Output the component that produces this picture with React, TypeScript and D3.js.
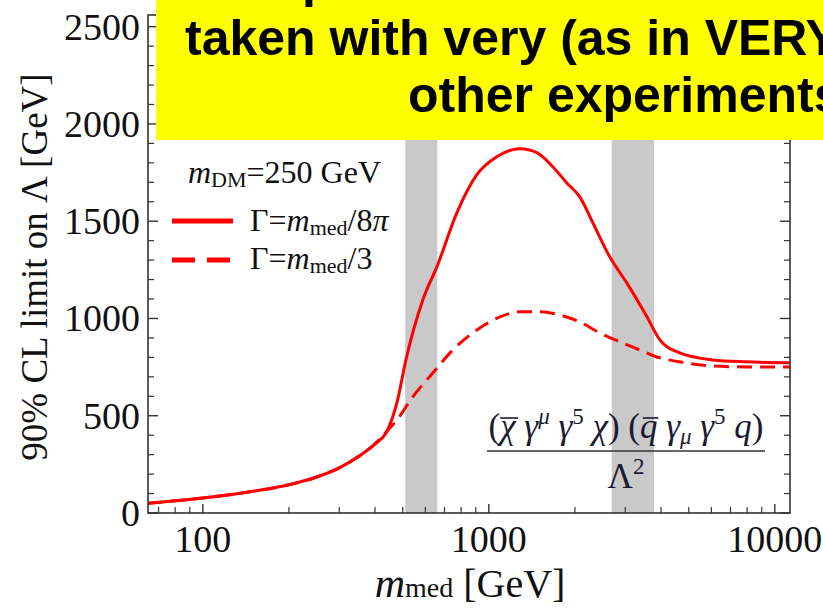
import React, { useLayoutEffect, useRef, useState } from 'react';
import * as d3 from 'd3';

const massSolid = [64, 100, 150, 200, 250, 300, 350, 400, 440, 477, 513, 588, 658, 773, 908, 1066, 1284, 1471, 1673, 1873, 2080, 2310, 2647, 3036, 3567, 3964, 4650, 6070, 7977, 11300];
const limitSolid = [50, 77, 112, 145, 185, 232, 290, 355, 420, 566, 787, 1096, 1265, 1543, 1739, 1831, 1872, 1852, 1780, 1697, 1625, 1492, 1317, 1183, 1010, 890, 823, 787, 777, 772];
const massDashed = [64, 100, 150, 200, 250, 300, 350, 400, 440, 477, 542, 637, 748, 930, 1093, 1284, 1507, 1771, 2080, 2443, 2871, 3373, 3866, 4652, 6070, 7980, 11300];
const limitDashed = [50, 77, 112, 145, 185, 232, 290, 355, 420, 478, 597, 720, 838, 951, 1008, 1034, 1034, 1018, 982, 926, 880, 838, 802, 777, 756, 751, 751];
const bands = [[510, 660], [2690, 3780]];
const xMajor = [100, 1000, 10000];
const xMinor = [70, 80, 90, 200, 300, 400, 500, 600, 700, 800, 900, 2000, 3000, 4000, 5000, 6000, 7000, 8000, 9000];
const yMajor = [0, 500, 1000, 1500, 2000, 2500];
const yMinor = d3.range(100, 2600, 100).filter((v) => v % 500 !== 0);
const yellowLines = ['Comparison should be', 'taken with very (as in VERY) large grains of salt', 'other experiments.'];

const L = 148, R = 790, T = 15, B = 513;
const SERIF = '"Liberation Serif", "Times New Roman", serif';

type Bar = { x1: number; x2: number; y: number };

export default function App() {
  const x = d3.scaleLog().domain([64.3, 11300]).range([L, R]);
  const y = d3.scaleLinear().domain([0, 2560]).range([B, T]);
  const line = d3.line<number>().curve(d3.curveMonotoneX);
  const solidPath = line(massSolid.map((m, i) => [x(m), y(limitSolid[i])]) as any) as string;
  const dashedPath = line(massDashed.map((m, i) => [x(m), y(limitDashed[i])]) as any) as string;
  const red = '#ff0000';
  const ax = '#333';
  const chiRef = useRef<SVGTSpanElement>(null);
  const qRef = useRef<SVGTSpanElement>(null);
  const [bars, setBars] = useState<Bar[]>([]);
  useLayoutEffect(() => {
    const out: Bar[] = [];
    [chiRef.current, qRef.current].forEach((el) => {
      if (el) {
        const bb = (el as any).getBBox();
        out.push({ x1: bb.x + 3, x2: bb.x + bb.width + 1, y: 418 });
      }
    });
    setBars(out);
  }, []);
  const fs = 35, sfs = 23;
  return (
    <div style={{ position: 'fixed', left: 0, top: 0 }}>
      <svg width={823} height={613} style={{ display: 'block', background: '#fff' }}>
        <defs>
          <clipPath id="plot"><rect x={L} y={T} width={R - L} height={B - T} /></clipPath>
        </defs>
        {bands.map((b, i) => (
          <rect key={i} x={x(b[0])} y={T} width={x(b[1]) - x(b[0])} height={B - T} fill="#c9c9c9" />
        ))}
        <g clipPath="url(#plot)">
          <path d={dashedPath} fill="none" stroke={red} strokeWidth={3} strokeDasharray="15 8" />
          <path d={solidPath} fill="none" stroke={red} strokeWidth={3} />
        </g>
        <rect x={L} y={T} width={R - L} height={B - T} fill="none" stroke={ax} strokeWidth={1.6} />
        {yMajor.map((v) => (
          <g key={'ym' + v}>
            <line x1={L} x2={L + 10} y1={y(v)} y2={y(v)} stroke={ax} strokeWidth={1.4} />
            <line x1={R} x2={R - 10} y1={y(v)} y2={y(v)} stroke={ax} strokeWidth={1.4} />
            <text x={140} y={y(v)} dy="0.34em" textAnchor="end" fontFamily={SERIF} fontSize={38} fill="#111">{v}</text>
          </g>
        ))}
        {yMinor.map((v) => (
          <g key={'yn' + v}>
            <line x1={L} x2={L + 6} y1={y(v)} y2={y(v)} stroke={ax} strokeWidth={1.2} />
            <line x1={R} x2={R - 6} y1={y(v)} y2={y(v)} stroke={ax} strokeWidth={1.2} />
          </g>
        ))}
        {xMajor.map((v) => (
          <g key={'xm' + v}>
            <line x1={x(v)} x2={x(v)} y1={B} y2={B - 9} stroke={ax} strokeWidth={1.4} />
            <text x={x(v)} y={552} textAnchor="middle" fontFamily={SERIF} fontSize={38} fill="#111">{v}</text>
          </g>
        ))}
        {xMinor.map((v) => (
          <line key={'xn' + v} x1={x(v)} x2={x(v)} y1={B} y2={B - 6} stroke={ax} strokeWidth={1.2} />
        ))}
        <text transform="translate(47,267) rotate(-90)" textAnchor="middle" fontFamily={SERIF} fontSize={37} fill="#111">90% CL limit on Λ [GeV]</text>
        <text x={470} y={597} textAnchor="middle" fontFamily={SERIF} fontSize={40} fill="#111">
          <tspan fontStyle="italic" fontSize={42}>m</tspan><tspan fontSize={28}>med</tspan><tspan> [GeV]</tspan>
        </text>
        <text x={188} y={183} fontFamily={SERIF} fontSize={32} fill="#111">
          <tspan fontStyle="italic">m</tspan><tspan fontSize={22} dy={4}>DM</tspan><tspan dy={-4}>=250 GeV</tspan>
        </text>
        <line x1={172} x2={233} y1={221} y2={221} stroke={red} strokeWidth={5} />
        <text x={250} y={231} fontFamily={SERIF} fontSize={32} fill="#111">
          <tspan>Γ=</tspan><tspan fontStyle="italic">m</tspan><tspan fontSize={22} dy={4}>med</tspan><tspan dy={-4}>/8</tspan><tspan fontStyle="italic">π</tspan>
        </text>
        <line x1={172} x2={233} y1={260} y2={260} stroke={red} strokeWidth={5} strokeDasharray="23 12" />
        <text x={250} y={269} fontFamily={SERIF} fontSize={32} fill="#111">
          <tspan>Γ=</tspan><tspan fontStyle="italic">m</tspan><tspan fontSize={22} dy={4}>med</tspan><tspan dy={-4}>/3</tspan>
        </text>
        <text x={626} y={438} textAnchor="middle" fontFamily={SERIF} fontSize={fs} fill="#1a1a33">
          <tspan>(</tspan><tspan ref={chiRef} fontStyle="italic">χ</tspan><tspan fontStyle="italic"> γ</tspan><tspan fontSize={sfs} dy={-14} fontStyle="italic">μ</tspan><tspan dy={14} fontStyle="italic"> γ</tspan><tspan fontSize={sfs} dy={-14}>5</tspan><tspan dy={14} fontStyle="italic"> χ</tspan><tspan>) (</tspan><tspan ref={qRef} fontStyle="italic">q</tspan><tspan fontStyle="italic"> γ</tspan><tspan fontSize={sfs} dy={6} fontStyle="italic">μ</tspan><tspan dy={-6} fontStyle="italic"> γ</tspan><tspan fontSize={sfs} dy={-14}>5</tspan><tspan dy={14} fontStyle="italic"> q</tspan><tspan>)</tspan>
        </text>
        {bars.map((b, i) => (
          <line key={'bar' + i} x1={b.x1} x2={b.x2} y1={b.y} y2={b.y} stroke="#1a1a33" strokeWidth={1.6} />
        ))}
        <line x1={487} x2={765} y1={451} y2={451} stroke="#333" strokeWidth={1.6} />
        <text x={626} y={488} textAnchor="middle" fontFamily={SERIF} fontSize={fs} fill="#1a1a33">
          <tspan>Λ</tspan><tspan fontSize={sfs} dy={-14}>2</tspan>
        </text>
        <rect x={156} y={0} width={700} height={140} fill="#ffff00" />
        <g fontFamily='"Liberation Sans", Arial, sans-serif' fontWeight="bold" fontSize={50} fill="#000">
          <text x={191} y={-3}>{yellowLines[0]}</text>
          <text x={185} y={55}>{yellowLines[1]}</text>
          <text x={408} y={112}>{yellowLines[2]}</text>
        </g>
      </svg>
    </div>
  );
}
